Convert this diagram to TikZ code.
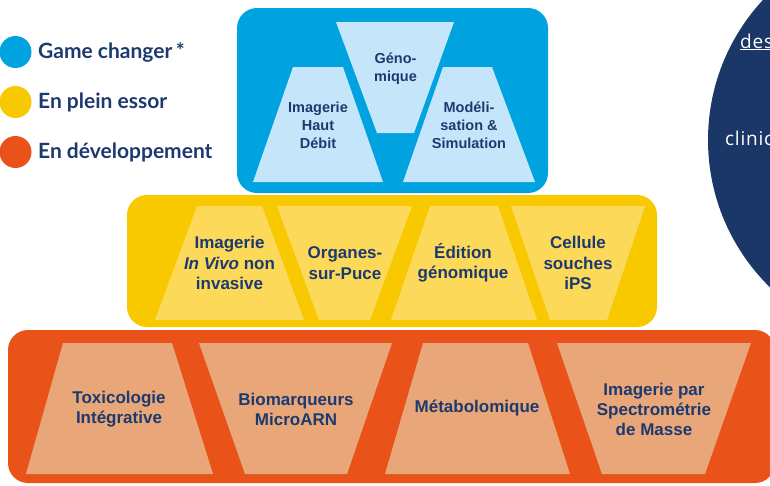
\documentclass[tikz,border=0pt]{standalone}
\usepackage{fontspec}
\setmainfont{Liberation Sans}
\newfontfamily\legendfont{Lato}
\newfontfamily\circlefont{Open Sans}[LetterSpace=4]
\definecolor{tierblue}{RGB}{0,163,224}
\definecolor{paleblue}{RGB}{197,230,250}
\definecolor{tieryellow}{RGB}{248,200,0}
\definecolor{paleyellow}{RGB}{253,217,90}
\definecolor{tierorange}{RGB}{233,83,26}
\definecolor{paleorange}{RGB}{232,166,121}
\definecolor{navytext}{RGB}{28,58,110}
\definecolor{navydisc}{RGB}{27,55,104}
\begin{document}
\begin{tikzpicture}[x=1pt,y=-1pt,
  tierbox/.style={rounded corners=20pt},
  bluelbl/.style={text=navytext,font=\bfseries\fontsize{14.5}{18}\selectfont,align=center,inner sep=0pt},
  yellowlbl/.style={text=navytext,font=\bfseries\fontsize{17}{20.5}\selectfont,align=center,inner sep=0pt},
  orangelbl/.style={text=navytext,font=\bfseries\fontsize{17}{20}\selectfont,align=center,inner sep=0pt},
  legendlbl/.style={text=navytext,font=\legendfont\bfseries\fontsize{21}{24}\selectfont,anchor=west,inner sep=0pt},
  disclbl/.style={text=white,font=\circlefont\fontsize{19}{22}\selectfont,anchor=base west,inner sep=0pt}]
\useasboundingbox (0,0) rectangle (770,485);
\clip (0,0) rectangle (770,485);

% dark disc on the right
\fill[navydisc] (914,140) circle[radius=206];
\node[disclbl] (des) at (740,48) {\underline{des}};
\node[disclbl] (clinic) at (725,145) {clinic};

% legend
\fill[tierblue] (15.5,52) circle[radius=16];
\fill[tieryellow] (15.5,102) circle[radius=16];
\fill[tierorange] (15.5,152) circle[radius=16];
\node[legendlbl] (lgc) at (38,52) {Game changer\,*};
\node[legendlbl] (lgp) at (38,102) {En plein essor};
\node[legendlbl] (lgd) at (38,152) {En développement};

% top tier
\fill[tierblue,tierbox] (237,8) rectangle (548,193);
\fill[paleblue] (293,67) -- (343,67) -- (383,182) -- (253,182) -- cycle;
\fill[paleblue] (336,22) -- (454,22) -- (414,133) -- (377,133) -- cycle;
\fill[paleblue] (443,67) -- (492,67) -- (535,182) -- (403,182) -- cycle;
\node[bluelbl] (b1) at (318,125) {Imagerie\\Haut\\Débit};
\node[bluelbl] (b2) at (395.5,69) {Géno-\\mique};
\node[bluelbl] (b3) at (469,125) {Modéli-\\sation \&\\Simulation};

% middle tier
\fill[tieryellow,tierbox] (127,195) rectangle (657,327);
\fill[paleyellow] (197,206) -- (262,206) -- (304,320) -- (155,320) -- cycle;
\fill[paleyellow] (277,206) -- (412,206) -- (370,320) -- (319,320) -- cycle;
\fill[paleyellow] (430,206) -- (498,206) -- (537,320) -- (391,320) -- cycle;
\fill[paleyellow] (511,206) -- (645,206) -- (607,320) -- (550,320) -- cycle;
\node[yellowlbl] (y1) at (229.5,263) {Imagerie\\\textit{In Vivo} non\\invasive};
\node[yellowlbl] (y2) at (345,263) {Organes-\\sur-Puce};
\node[yellowlbl] (y3) at (463,263) {Édition\\génomique};
\node[yellowlbl] (y4) at (578,263) {Cellule\\souches\\iPS};

% bottom tier
\fill[tierorange,tierbox] (8,330) rectangle (775,483);
\fill[paleorange] (63,343) -- (172,343) -- (213,474) -- (26,474) -- cycle;
\fill[paleorange] (199,343) -- (392,343) -- (347,474) -- (245,474) -- cycle;
\fill[paleorange] (423,343) -- (528,343) -- (570,474) -- (385,474) -- cycle;
\fill[paleorange] (557,343) -- (751,343) -- (705,474) -- (602,474) -- cycle;
\node[orangelbl] (o1) at (119,409) {Toxicologie\\Intégrative};
\node[orangelbl] (o2) at (296,409) {Biomarqueurs\\MicroARN};
\node[orangelbl] (o3) at (477,408) {Métabolomique};
\node[orangelbl] (o4) at (654,409) {Imagerie par\\Spectrométrie\\de Masse};
\end{tikzpicture}
\end{document}
